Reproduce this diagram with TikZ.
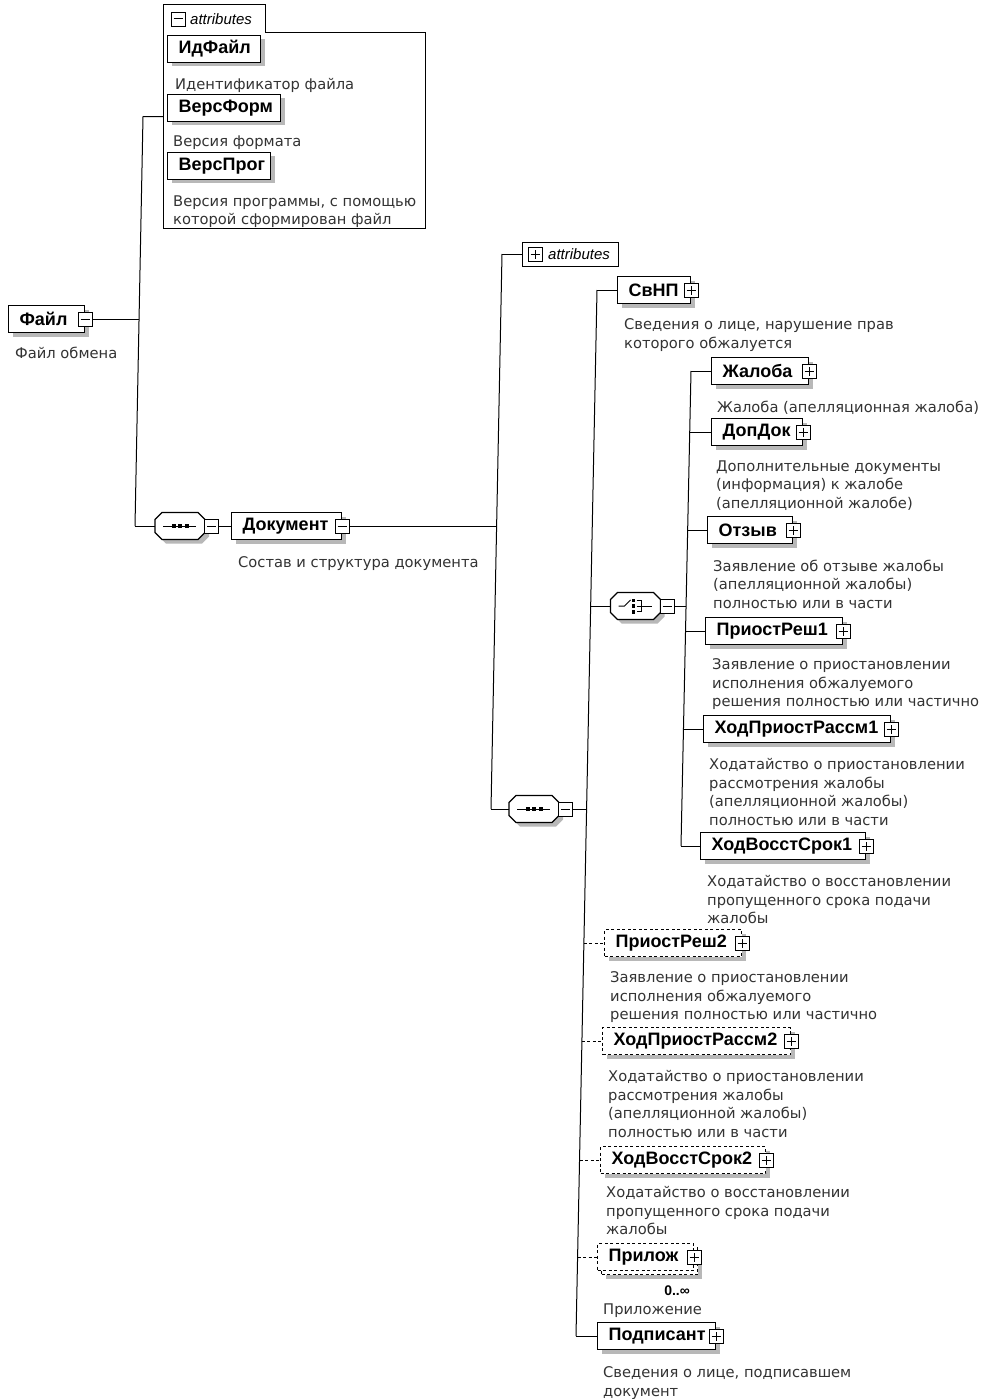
\documentclass[tikz,border=0pt]{standalone}
\usepackage{fontspec}
\setmainfont{DejaVu Sans}
\newfontfamily\labfont{Liberation Sans}
\newfontfamily\descfont{DejaVu Sans}
\usetikzlibrary{shadows,calc}
\newcommand\lbx[2]{\makebox[#1pt][l]{\hspace{11pt}#2}}
\tikzset{
  conn/.style={line width=1pt},
  optconn/.style={line width=1pt, dash pattern=on 3pt off 2.5pt},
  boxbase/.style={draw, fill=white, line width=1.2pt, rectangle, inner sep=0pt, minimum height=27pt, anchor=west,
    font=\labfont\fontsize{18}{20}\selectfont\bfseries},
  shad/.style={drop shadow={shadow xshift=4pt, shadow yshift=-4pt, fill=black!28, opacity=1}},
  dashpat/.style={dash pattern=on 3pt off 2.5pt},
  elem/.style={boxbase, shad},
  optelem/.style={boxbase, shad, dashpat},
  optfront/.style={boxbase, dashpat},
  desc/.style={anchor=north west, inner sep=0pt, align=left, text=black!80,
    font=\descfont\fontsize{14.7}{18.5}\selectfont},
  attrlab/.style={inner sep=0pt, anchor=west, font=\labfont\fontsize{15}{17}\selectfont\itshape},
  icon/.style={draw, fill=white, solid, line width=0.9pt, rectangle, minimum size=14pt, inner sep=0pt},
  minusic/.style={icon, path picture={\draw[line width=1pt] ([xshift=2.5pt]path picture bounding box.west) -- ([xshift=-2.5pt]path picture bounding box.east);}},
  plusic/.style={icon, path picture={\draw[line width=1pt] ([xshift=2.5pt]path picture bounding box.west) -- ([xshift=-2.5pt]path picture bounding box.east)
      ([yshift=2.5pt]path picture bounding box.south) -- ([yshift=-2.5pt]path picture bounding box.north);}},
  octnode/.style={inner sep=0pt, minimum width=50pt, minimum height=27pt}
}
\newcommand\myoct[3]{%
  \node[octnode] (#1) at (#2,#3) {};
  \fill[black!28] (#2-18+4,#3-13.5+4) -- (#2+18+4,#3-13.5+4) -- (#2+25+4,#3-6.5+4) -- (#2+25+4,#3+6.5+4) -- (#2+18+4,#3+13.5+4) -- (#2-18+4,#3+13.5+4) -- (#2-25+4,#3+6.5+4) -- (#2-25+4,#3-6.5+4) -- cycle;
  \draw[fill=white, line width=1.2pt] (#2-18,#3-13.5) -- (#2+18,#3-13.5) -- (#2+25,#3-6.5) -- (#2+25,#3+6.5) -- (#2+18,#3+13.5) -- (#2-18,#3+13.5) -- (#2-25,#3+6.5) -- (#2-25,#3-6.5) -- cycle;
}
\newcommand\seqglyph[2]{%
  \draw[line width=1pt] (#1-17,#2) -- (#1+16,#2);
  \fill (#1-6.5-2,#2-2) rectangle ++(4,4);
  \fill (#1-2,#2-2) rectangle ++(4,4);
  \fill (#1+6.5-2,#2-2) rectangle ++(4,4);
}
\newcommand\choiceglyph[2]{%
  \draw[line width=1pt] (#1-17,#2) -- (#1-11,#2) -- (#1-5,#2-6);
  \fill (#1-4,#2-7.5) rectangle ++(3.5,3.5);
  \fill (#1-4,#2-1.75) rectangle ++(3.5,3.5);
  \fill (#1-4,#2+4) rectangle ++(3.5,3.5);
  \draw[line width=1pt] (#1+1,#2-5.75) -- (#1+6,#2-5.75) -- (#1+6,#2+5.75) -- (#1+1,#2+5.75)
     (#1+1,#2) -- (#1+16,#2);
}
\begin{document}
\begin{tikzpicture}[x=1pt,y=-1pt]
\useasboundingbox[fill=white] (0,0) rectangle (985,1399);

% ---------- top attributes group ----------
\node[inner sep=0pt, minimum width=262pt, minimum height=223pt, anchor=north west] (attr1) at (163,5) {};
\draw[line width=1pt] (163,5) -- (265,5) -- (265,33) -- (425,33) -- (425,228) -- (163,228) -- cycle;
\node[minusic] (attr1ic) at (178,19) {};
\node[attrlab] (attr1lab) at (190,19) {attributes};
\node[elem] (idf) at (167,49) {\lbx{93}{ИдФайл}};
\node[desc] (didf) at (175,78.4) {Идентификатор файла};
\node[elem] (vf) at (167,108) {\lbx{113}{ВерсФорм}};
\node[desc] (dvf) at (173,135.4) {Версия формата};
\node[elem] (vp) at (167,166) {\lbx{103}{ВерсПрог}};
\node[desc] (dvp) at (173,195.4) {Версия программы, с помощью\\которой сформирован файл};

% ---------- root ----------
\node[elem] (file) at (8,319) {\lbx{76}{Файл}};
\node[minusic] (fileic) at (file.east) {};
\node[desc] (dfile) at (15,346.4) {Файл обмена};

% ---------- sequence 1 + Документ ----------
\myoct{seq1}{180}{526}
\seqglyph{180}{526}
\node[minusic, anchor=west] (seq1ic) at ([xshift=-1pt]seq1.east) {};
\node[elem] (doc) at (231,526) {\lbx{110}{Документ}};
\node[minusic] (docic) at (doc.east) {};
\node[desc] (ddoc) at (238,556.4) {Состав и структура документа};

% ---------- attributes 2 ----------
\node[draw, fill=white, line width=1pt, inner sep=0pt, minimum width=96pt, minimum height=24pt, anchor=west] (attr2) at (522,254) {};
\node[plusic] (attr2ic) at (535,254) {};
\node[attrlab] (attr2lab) at (548,254) {attributes};

% ---------- sequence 2 ----------
\myoct{seq2}{534}{809}
\seqglyph{534}{809}
\node[minusic, anchor=west] (seq2ic) at ([xshift=-1pt]seq2.east) {};

% ---------- СвНП ----------
\node[elem] (svnp) at (617,290) {\lbx{73}{СвНП}};
\node[plusic] (svnpic) at (svnp.east) {};
\node[desc] (dsvnp) at (624,318.4) {Сведения о лице, нарушение прав\\которого обжалуется};

% ---------- choice ----------
\myoct{choice}{635.5}{606}
\choiceglyph{635.5}{606}
\node[minusic, anchor=west] (choiceic) at ([xshift=-1pt]choice.east) {};

% ---------- choice members ----------
\node[elem] (jal) at (711,371) {\lbx{97}{Жалоба}};
\node[plusic] (jalic) at (jal.east) {};
\node[desc] (djal) at (717,400.4) {Жалоба (апелляционная жалоба)};

\node[elem] (dop) at (711,432) {\lbx{91}{ДопДок}};
\node[plusic] (dopic) at (dop.east) {};
\node[desc] (ddop) at (716,460.4) {Дополнительные документы\\(информация) к жалобе\\(апелляционной жалобе)};

\node[elem] (otz) at (707,530) {\lbx{85}{Отзыв}};
\node[plusic] (otzic) at (otz.east) {};
\node[desc] (dotz) at (713,559.4) {Заявление об отзыве жалобы\\(апелляционной жалобы)\\полностью или в части};

\node[elem] (pr1) at (705,631) {\lbx{137}{ПриостРеш1}};
\node[plusic] (pr1ic) at (pr1.east) {};
\node[desc] (dpr1) at (712,658.4) {Заявление о приостановлении\\исполнения обжалуемого\\решения полностью или частично};

\node[elem] (hpr1) at (703,729) {\lbx{187}{ХодПриостРассм1}};
\node[plusic] (hpr1ic) at (hpr1.east) {};
\node[desc] (dhpr1) at (709,758.4) {Ходатайство о приостановлении\\рассмотрения жалобы\\(апелляционной жалобы)\\полностью или в части};

\node[elem] (hvs1) at (700,846) {\lbx{165}{ХодВосстСрок1}};
\node[plusic] (hvs1ic) at (hvs1.east) {};
\node[desc] (dhvs1) at (707,875.4) {Ходатайство о восстановлении\\пропущенного срока подачи\\жалобы};

% ---------- optional members ----------
\node[optelem] (pr2) at (604,943) {\lbx{137}{ПриостРеш2}};
\node[plusic] (pr2ic) at (pr2.east) {};
\node[desc] (dpr2) at (610,971.4) {Заявление о приостановлении\\исполнения обжалуемого\\решения полностью или частично};

\node[optelem] (hpr2) at (602,1041) {\lbx{188}{ХодПриостРассм2}};
\node[plusic] (hpr2ic) at (hpr2.east) {};
\node[desc] (dhpr2) at (608,1070.4) {Ходатайство о приостановлении\\рассмотрения жалобы\\(апелляционной жалобы)\\полностью или в части};

\node[optelem] (hvs2) at (600,1160) {\lbx{165}{ХодВосстСрок2}};
\node[plusic] (hvs2ic) at (hvs2.east) {};
\node[desc] (dhvs2) at (606,1186.4) {Ходатайство о восстановлении\\пропущенного срока подачи\\жалобы};

\node[optelem] (prilbk) at (601,1261) {\makebox[96pt]{}};
\node[optfront] (pril) at (597,1257) {\lbx{96}{Прилож}};
\node[plusic] (prilic) at (pril.east) {};
\node[inner sep=0pt, anchor=base east, font=\labfont\fontsize{14}{16}\selectfont\bfseries] (prilocc) at (690,1295) {0..∞};
\node[desc] (dpril) at (603,1303.4) {Приложение};

\node[elem] (podp) at (597,1336) {\lbx{118}{Подписант}};
\node[plusic] (podpic) at (podp.east) {};
\node[desc] (dpodp) at (603,1366.4) {Сведения о лице, подписавшем\\документ};

% ---------- connectors ----------
\coordinate (t1top) at (143,116.5);
\coordinate (t1file) at (139,319);
\coordinate (t1bot) at (135,526);
\draw[conn] (t1top) -- (t1bot);
\draw[conn] (t1top) -- (attr1.west);
\draw[conn] (fileic.east) -- (t1file);
\draw[conn] (t1bot) -- (seq1.west);
\draw[conn] (seq1ic.east) -- (doc.west);

\coordinate (tMtop) at (502,254);
\coordinate (tMdoc) at (496.6,526);
\coordinate (tMbot) at (491,809);
\draw[conn] (tMtop) -- (tMbot);
\draw[conn] (tMtop) -- (attr2.west);
\draw[conn] (docic.east) -- (tMdoc);
\draw[conn] (tMbot) -- (seq2.west);

\coordinate (t2top) at (597,290);
\coordinate (t2ch) at (590.7,606);
\coordinate (t2seq) at (586.6,809);
\coordinate (t2pr2) at (583.9,943);
\coordinate (t2hpr2) at (581.9,1041);
\coordinate (t2hvs2) at (579.5,1160);
\coordinate (t2pril) at (577.6,1257);
\coordinate (t2bot) at (576,1336);
\draw[conn] (t2top) -- (t2bot);
\draw[conn] (t2top) -- (svnp.west);
\draw[conn] (seq2ic.east) -- (t2seq);
\draw[conn] (t2ch) -- (choice.west);
\draw[optconn] (t2pr2) -- (pr2.west);
\draw[optconn] (t2hpr2) -- (hpr2.west);
\draw[optconn] (t2hvs2) -- (hvs2.west);
\draw[optconn] (t2pril) -- (pril.west);
\draw[conn] (t2bot) -- (podp.west);

\coordinate (t3top) at (691,371);
\coordinate (t3dop) at (689.7,432);
\coordinate (t3otz) at (687.7,530);
\coordinate (t3ch) at (686,606);
\coordinate (t3pr1) at (685.5,631);
\coordinate (t3hpr1) at (683.5,729);
\coordinate (t3bot) at (681,846);
\draw[conn] (t3top) -- (t3bot);
\draw[conn] (t3top) -- (jal.west);
\draw[conn] (t3dop) -- (dop.west);
\draw[conn] (t3otz) -- (otz.west);
\draw[conn] (choiceic.east) -- (t3ch);
\draw[conn] (t3pr1) -- (pr1.west);
\draw[conn] (t3hpr1) -- (hpr1.west);
\draw[conn] (t3bot) -- (hvs1.west);
\end{tikzpicture}
\end{document}
